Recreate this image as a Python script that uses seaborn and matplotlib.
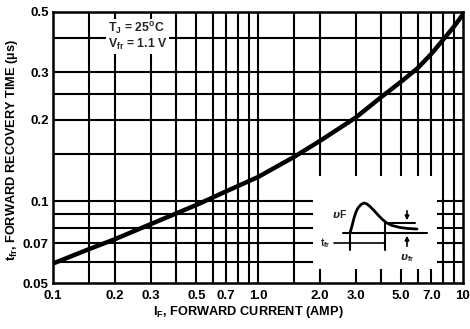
import numpy as np
import pandas as pd
import seaborn as sns
import matplotlib
matplotlib.use('Agg')
import matplotlib.pyplot as plt
from matplotlib.ticker import FixedLocator, FixedFormatter, NullLocator

# forward recovery time vs forward current
current = [0.1, 0.15, 0.2, 0.3, 0.5, 0.7, 1.0, 1.5, 2.0, 3.0, 4.0, 5.0, 6.0, 7.0, 8.0, 9.0, 10.0]
recovery = [0.059, 0.0667, 0.0725, 0.0825, 0.097, 0.109, 0.123, 0.146, 0.167, 0.204,
            0.243, 0.277, 0.31, 0.35, 0.395, 0.44, 0.49]

x_ticks = [0.1, 0.2, 0.3, 0.5, 0.7, 1.0, 2.0, 3.0, 5.0, 7.0, 10.0]
x_tick_labels = ["0.1", "0.2", "0.3", "0.5", "0.7", "1.0", "2.0", "3.0", "5.0", "7.0", "10"]
y_ticks = [0.05, 0.07, 0.1, 0.2, 0.3, 0.5]
y_tick_labels = ["0.05", "0.07", "0.1", "0.2", "0.3", "0.5"]
x_grid = [0.15, 0.2, 0.3, 0.4, 0.5, 0.6, 0.7, 0.8, 0.9, 1.0, 1.5, 2.0, 3.0, 4.0, 5.0, 6.0, 7.0, 8.0, 9.0]
y_grid = [0.06, 0.07, 0.08, 0.09, 0.1, 0.15, 0.2, 0.25, 0.3, 0.4]

# waveform sketch for the inset (sketch units)
pulse_t = [350, 352, 354, 356, 358, 361, 364, 367, 370, 374, 378, 382, 386, 392, 400, 408, 417]
pulse_v = [233, 226, 218, 212, 208, 204.5, 203, 204, 206.5, 210.5, 215, 219, 222.5, 225.5, 227.5, 228.5, 229]

df = pd.DataFrame({"current": current, "recovery": recovery})

sns.set_theme(style="white")
plt.rcParams["font.family"] = ["Liberation Sans", "DejaVu Sans"]
plt.rcParams["font.weight"] = "bold"

fig = plt.figure(figsize=(4.7, 3.29), dpi=100)
fig.patch.set_facecolor("white")
ax = fig.add_axes([53 / 470, 46 / 329, 410 / 470, 271 / 329])
ax.set_facecolor("white")

ax.set_xscale("log")
ax.set_yscale("log")
ax.set_xlim(0.1, 10)
ax.set_ylim(0.05, 0.5)

for xv in x_grid:
    ax.axvline(xv, color="black", lw=1.5, zorder=1)
for yv in y_grid:
    ax.axhline(yv, color="black", lw=1.5, zorder=1)

sns.lineplot(data=df, x="current", y="recovery", color="black", lw=3.2, ax=ax, zorder=3)

for s in ax.spines.values():
    s.set_color("black")
    s.set_linewidth(1.8)

ax.xaxis.set_major_locator(FixedLocator(x_ticks))
ax.xaxis.set_major_formatter(FixedFormatter(x_tick_labels))
ax.yaxis.set_major_locator(FixedLocator(y_ticks))
ax.yaxis.set_major_formatter(FixedFormatter(y_tick_labels))
ax.xaxis.set_minor_locator(NullLocator())
ax.yaxis.set_minor_locator(NullLocator())
ax.tick_params(axis="both", length=0, labelsize=9.5, colors="black")
ax.tick_params(axis="x", pad=5)
ax.tick_params(axis="y", pad=3)
for lab in ax.get_xticklabels() + ax.get_yticklabels():
    lab.set_fontweight("bold")

ax.set_xlabel(r"I$_\mathregular{F}$, FORWARD CURRENT (AMP)", fontsize=9.2, fontweight="bold", color="black")
ax.set_ylabel(r"t$_\mathregular{fr}$, FORWARD RECOVERY TIME (µs)", fontsize=9.2, fontweight="bold", color="black")
ax.xaxis.set_label_coords(0.476, -0.078)
ax.yaxis.set_label_coords(-0.08, 0.49)

# condition text box
ax.text(0.185, 0.405, r"T$_\mathregular{J}$ = 25$^\mathregular{o}$C", fontsize=8.8, fontweight="bold",
        va="bottom", ha="left", zorder=4,
        bbox=dict(facecolor="white", edgecolor="none", pad=1.5))
ax.text(0.185, 0.355, r"V$_\mathregular{fr}$ = 1.1 V", fontsize=8.8, fontweight="bold",
        va="bottom", ha="left", zorder=4,
        bbox=dict(facecolor="white", edgecolor="none", pad=1.5))

# inset waveform sketch on a white patch that masks the grid
ins = ax.inset_axes([(313 - 53) / 410, (283 - 269) / 271, (437 - 313) / 410, (269 - 176) / 271])
ins.set_facecolor("white")
ins.set_xlim(313, 437)
ins.set_ylim(269, 176)
ins.set_xticks([])
ins.set_yticks([])
for s in ins.spines.values():
    s.set_visible(False)
ins.plot(pulse_t, pulse_v, color="black", lw=2)
ins.plot([343, 427], [233, 233], color="black", lw=1.5)
ins.plot([388, 415], [223, 223], color="black", lw=1.5)
ins.plot([350, 350], [233, 250], color="black", lw=1.5)
ins.plot([385, 385], [223, 250], color="black", lw=1.5)
ins.plot([334, 385], [243, 243], color="black", lw=1.2)
ins.annotate("", xy=(407, 223), xytext=(407, 208),
             arrowprops=dict(arrowstyle="-|>", color="black", lw=1.2, mutation_scale=6))
ins.annotate("", xy=(407, 233), xytext=(407, 249),
             arrowprops=dict(arrowstyle="-|>", color="black", lw=1.2, mutation_scale=6))
ins.text(340, 214, r"$\upsilon$F", fontsize=7.5, fontweight="bold", ha="center", va="center")
ins.text(325, 243, r"t$_\mathregular{fr}$", fontsize=7.5, fontweight="bold", ha="center", va="center")
ins.text(407, 258, r"$\upsilon$$_\mathregular{fr}$", fontsize=7.5, fontweight="bold", ha="center", va="center")

fig.savefig("out.png", dpi=100, facecolor="white")
plt.close(fig)
